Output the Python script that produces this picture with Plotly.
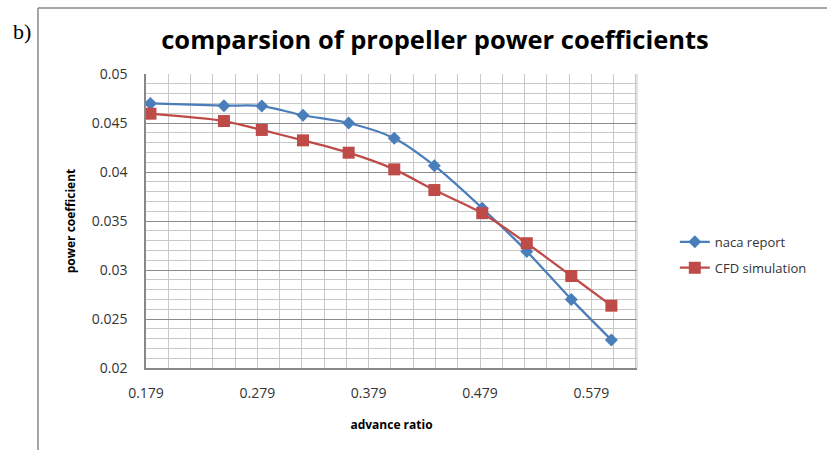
import plotly.graph_objects as go

# ---- data ----
advance_ratio = [0.183, 0.249, 0.283, 0.320, 0.361, 0.402, 0.438, 0.481, 0.521, 0.561, 0.597]
naca_report = [0.0470, 0.04677, 0.04673, 0.04579, 0.0450, 0.04344, 0.04064, 0.0363, 0.0319, 0.0270, 0.02286]
cfd_simulation = [0.04595, 0.0452, 0.04429, 0.04323, 0.04197, 0.04027, 0.03816, 0.0358, 0.03273, 0.02939, 0.02636]

x_tick_vals = [0.179, 0.279, 0.379, 0.479, 0.579]
x_tick_text = ["0.179", "0.279", "0.379", "0.479", "0.579"]
y_tick_vals = [0.02, 0.025, 0.03, 0.035, 0.04, 0.045, 0.05]
y_tick_text = ["0.02", "0.025", "0.03", "0.035", "0.04", "0.045", "0.05"]

BLUE = "#4A7EBB"
RED = "#BE4B48"
FONT = "Open Sans"

fig = go.Figure()
fig.add_trace(go.Scatter(
    x=advance_ratio, y=naca_report, name="naca report", mode="lines+markers",
    line=dict(color=BLUE, width=2.25, shape="spline", smoothing=0.8),
    marker=dict(symbol="diamond", size=10, color=BLUE), legendgroup="a"))
fig.add_trace(go.Scatter(
    x=advance_ratio, y=cfd_simulation, name="CFD simulation", mode="lines+markers",
    line=dict(color=RED, width=2.25, shape="spline", smoothing=0.8),
    marker=dict(symbol="square", size=12, color=RED), legendgroup="b"))

fig.update_layout(
    width=827, height=450,
    margin=dict(l=146, r=190, t=74, b=82),
    paper_bgcolor="white", plot_bgcolor="white",
    font=dict(family=FONT, color="#333333", size=13),
    title=dict(text="<b>comparsion of propeller power coefficients</b>",
               x=435 / 827, xanchor="center", y=1 - 40 / 450, yanchor="middle",
               font=dict(family=FONT, size=25.5, color="#000000")),
    legend=dict(x=1.077, xanchor="left", y=0.48, yanchor="top",
                font=dict(family=FONT, size=13, color="#333333"),
                tracegroupgap=6, bgcolor="rgba(0,0,0,0)"),
    showlegend=True,
)

fig.update_xaxes(
    range=[0.179, 0.62], tickmode="array", tickvals=x_tick_vals, ticktext=x_tick_text,
    showgrid=True, gridcolor="#C8C8C8", gridwidth=1,
    minor=dict(tick0=0.179, dtick=0.02, showgrid=True, gridcolor="#C8C8C8", gridwidth=1),
    showline=True, linecolor="#888888", linewidth=1.5, mirror=False,
    ticks="", ticklabelstandoff=11, zeroline=False,
    tickfont=dict(family=FONT, size=14, color="#333333"),
    title=dict(text="<b>advance ratio</b>", font=dict(family=FONT, size=12, color="#000000"), standoff=20),
)
fig.update_yaxes(
    range=[0.02, 0.05], tickmode="array", tickvals=y_tick_vals, ticktext=y_tick_text,
    showgrid=True, gridcolor="#8A8A8A", gridwidth=1,
    minor=dict(tick0=0.02, dtick=0.001, showgrid=True, gridcolor="#C8C8C8", gridwidth=1),
    showline=True, linecolor="#888888", linewidth=1.5, mirror=False,
    ticks="", ticklabelstandoff=14, zeroline=False,
    tickfont=dict(family=FONT, size=14, color="#333333"),
    title=dict(text="<b>power coefficient</b>", font=dict(family=FONT, size=12, color="#000000"), standoff=14),
)

# right border of plot area (light)
fig.add_shape(type="line", xref="paper", yref="paper", x0=1, x1=1, y0=0, y1=1,
              line=dict(color="#C8C8C8", width=1))
# outer frame (left and top edges of the figure box)
fig.add_shape(type="line", xref="paper", yref="paper", x0=-0.22, x1=-0.22, y0=-0.3, y1=1.2245,
              line=dict(color="#888888", width=1.5))
fig.add_shape(type="line", xref="paper", yref="paper", x0=-0.22, x1=1.4, y0=1.2245, y1=1.2245,
              line=dict(color="#888888", width=1.5))

fig.add_annotation(text="b)", xref="paper", yref="paper", x=-0.2525, y=1.143,
                   showarrow=False, xanchor="center", yanchor="middle",
                   font=dict(family="Liberation Serif", size=22, color="#000000"))

fig.write_html("out.html", config={"displayModeBar": False},
               post_script="document.body.style.margin='0';")
